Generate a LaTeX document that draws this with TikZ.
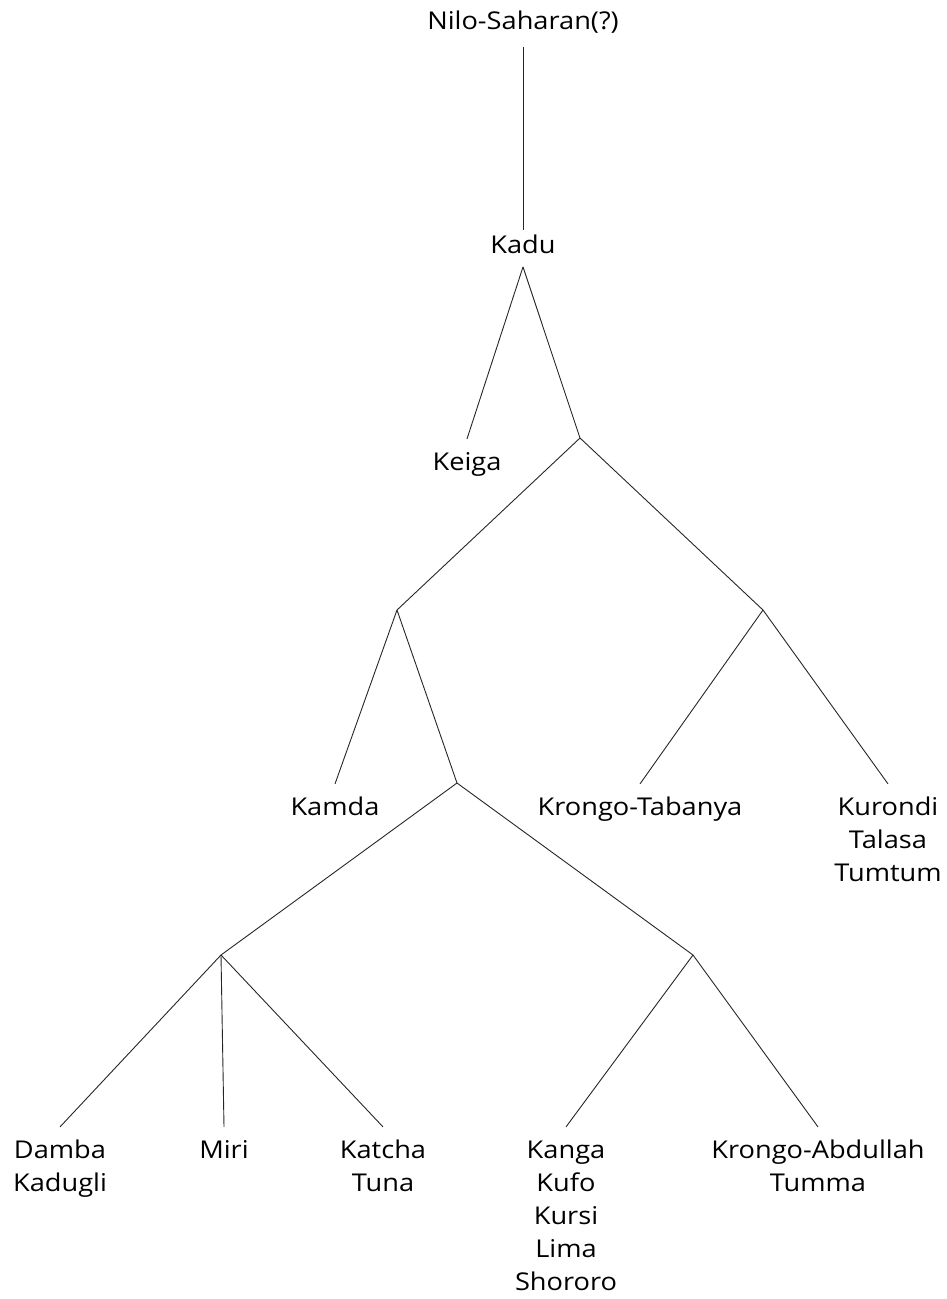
\documentclass[tikz,border=0pt]{standalone}
\usepackage{fontspec}
\setmainfont[FakeStretch=1.11]{Open Sans}
\newcommand{\lbltext}[1]{\begin{tabular}[t]{@{}c@{}}#1\end{tabular}}
\begin{document}
\begin{tikzpicture}[x=1pt,y=-1pt,
  lbl/.style={inner xsep=0pt, inner ysep=8pt, outer sep=0pt, anchor=base,
    font=\fontsize{24.5}{33}\selectfont},
  edge/.style={draw=black!85, line width=0.9pt}]
\useasboundingbox (0,0) rectangle (947,1299);
% labels
\node[lbl] (root) at (523,29) {\lbltext{Nilo-Saharan(?)}};
\node[lbl, inner ysep=0pt] (kadu) at (523,253) {\lbltext{Kadu}};
\node[lbl] (keiga) at (467,470) {\lbltext{Keiga}};
\node[lbl] (kamda) at (335,815) {\lbltext{Kamda}};
\node[lbl] (krongot) at (640,815) {\lbltext{Krongo-Tabanya}};
\node[lbl] (kurondi) at (888,815) {\lbltext{Kurondi\\Talasa\\Tumtum}};
\node[lbl] (damba) at (60,1158) {\lbltext{Damba\\Kadugli}};
\node[lbl] (miri) at (224,1158) {\lbltext{Miri}};
\node[lbl] (katcha) at (383,1158) {\lbltext{Katcha\\Tuna}};
\node[lbl] (kanga) at (566,1158) {\lbltext{Kanga\\Kufo\\Kursi\\Lima\\Shororo}};
\node[lbl] (krongoa) at (818,1158) {\lbltext{Krongo-Abdullah\\Tumma}};
% junctions
\coordinate (kfork) at ([yshift=-4pt]kadu.south);
\coordinate (j1) at (580,438);
\coordinate (j2) at (397,610);
\coordinate (j3) at (763,610);
\coordinate (j4) at (457,783);
\coordinate (j5) at (221,955);
\coordinate (j6) at (693,955);
% connectors
\draw[edge] (root.south) -- (kadu.north);
\draw[edge] (kfork) -- (keiga.north);
\draw[edge] (kfork) -- (j1);
\draw[edge] (j1) -- (j2);
\draw[edge] (j1) -- (j3);
\draw[edge] (j2) -- (kamda.north);
\draw[edge] (j2) -- (j4);
\draw[edge] (j3) -- (krongot.north);
\draw[edge] (j3) -- (kurondi.north);
\draw[edge] (j4) -- (j5);
\draw[edge] (j4) -- (j6);
\draw[edge] (j5) -- (damba.north);
\draw[edge] (j5) -- (miri.north);
\draw[edge] (j5) -- (katcha.north);
\draw[edge] (j6) -- (kanga.north);
\draw[edge] (j6) -- (krongoa.north);
\end{tikzpicture}
\end{document}
